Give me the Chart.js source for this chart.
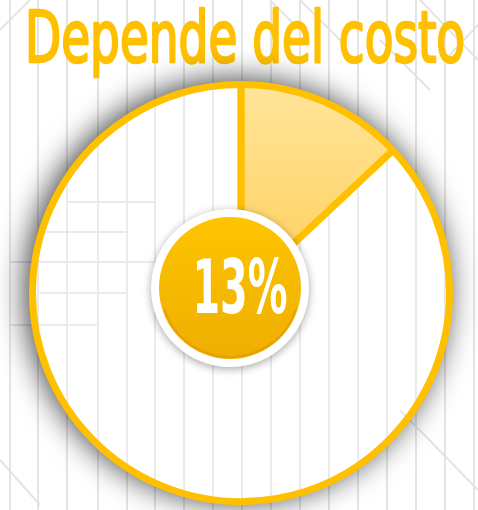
<html>
<head>
  <meta charset="utf-8">
  <title>Depende del costo</title>
  <script src="https://cdn.jsdelivr.net/npm/chart.js@4.4.1/dist/chart.umd.min.js"></script>
  <style>
    html, body { margin: 0; padding: 0; background: #fff; }
    #wrap { width: 478px; height: 510px; }
  </style>
</head>
<body>
<div id="wrap"><canvas id="costChart" width="478" height="510"></canvas></div>
<script>
  // chart data
  var chartTitle = 'Depende del costo';
  var labels = ['Costo', 'Resto'];
  var values = [13, 87];

  var yellow = '#FFC000';
  var condensed = '"DejaVu Sans Condensed", "DejaVu Sans", sans-serif';

  // background decoration (light grey line pattern)
  var bgVerticals = [10, 38, 67, 98, 127, 155, 184, 213, 242, 271, 300, 329, 358, 387, 416, 445, 474];
  var bgSegments = [
    [67, 202, 155, 202], [38, 232, 127, 232], [10, 262, 155, 262],
    [38, 293, 127, 293], [10, 325, 98, 325], [67, 120, 67, 202],
    [0, 460, 40, 505], [300, 0, 345, 45], [420, 0, 478, 60],
    [380, 40, 430, 90], [400, 410, 478, 490], [445, 60, 478, 25],
    [0, 30, 30, 0], [270, 0, 300, 30]
  ];

  // draws text squeezed horizontally to a given width
  function squeezedText(ctx, text, x, y, font, width, stroke) {
    ctx.font = font;
    var w = ctx.measureText(text).width;
    ctx.save();
    ctx.translate(x, y);
    ctx.scale(width / w, 1);
    ctx.textAlign = 'center';
    ctx.textBaseline = 'alphabetic';
    ctx.fillText(text, 0, 0);
    if (stroke) {
      ctx.lineWidth = stroke;
      ctx.lineJoin = 'round';
      ctx.strokeText(text, 0, 0);
    }
    ctx.restore();
  }

  var backgroundPlugin = {
    id: 'bgLines',
    beforeDraw: function(chart) {
      var ctx = chart.ctx;
      ctx.save();
      ctx.strokeStyle = '#e4e4e4';
      ctx.lineWidth = 2;
      bgVerticals.forEach(function(x) {
        ctx.beginPath();
        ctx.moveTo(x, 0);
        ctx.lineTo(x, chart.height);
        ctx.stroke();
      });
      bgSegments.forEach(function(s) {
        ctx.beginPath();
        ctx.moveTo(s[0], s[1]);
        ctx.lineTo(s[2], s[3]);
        ctx.stroke();
      });
      ctx.fillStyle = yellow;
      ctx.strokeStyle = yellow;
      squeezedText(ctx, chartTitle, 245, 62, '71px ' + condensed, 440, 2.5);
      ctx.restore();
    }
  };

  // soft shadow outside the pie only
  var shadowPlugin = {
    id: 'pieShadow',
    beforeDatasetsDraw: function(chart) {
      var arc = chart.getDatasetMeta(0).data[0];
      if (!arc) return;
      var ctx = chart.ctx;
      var r = arc.outerRadius + 3;
      ctx.save();
      ctx.beginPath();
      ctx.rect(0, 0, chart.width, chart.height);
      ctx.arc(arc.x, arc.y, r - 1, 0, Math.PI * 2, true);
      ctx.clip('evenodd');
      ctx.shadowColor = 'rgba(0,0,0,0.75)';
      ctx.shadowBlur = 30;
      ctx.shadowOffsetX = -2000 - 4;
      ctx.shadowOffsetY = -2;
      ctx.fillStyle = '#000';
      ctx.beginPath();
      ctx.arc(arc.x + 2000, arc.y, r, 0, Math.PI * 2);
      ctx.fill();
      ctx.restore();
    }
  };

  // center badge with the percentage
  var badgePlugin = {
    id: 'badge',
    afterDatasetsDraw: function(chart) {
      var arc = chart.getDatasetMeta(0).data[0];
      if (!arc) return;
      var ctx = chart.ctx;
      var cx = arc.x - 11, cy = arc.y - 5;
      var total = values.reduce(function(a, b) { return a + b; }, 0);
      var pct = Math.round(values[0] / total * 100) + '%';

      ctx.save();
      ctx.shadowColor = 'rgba(0,0,0,0.35)';
      ctx.shadowBlur = 8;
      ctx.shadowOffsetY = 2;
      ctx.fillStyle = '#ffffff';
      ctx.beginPath();
      ctx.arc(cx, cy, 79, 0, Math.PI * 2);
      ctx.fill();
      ctx.restore();

      ctx.save();
      var g = ctx.createLinearGradient(0, cy - 71, 0, cy + 71);
      g.addColorStop(0, '#FFC400');
      g.addColorStop(0.5, '#F6B900');
      g.addColorStop(1, '#EFAE00');
      ctx.fillStyle = g;
      ctx.beginPath();
      ctx.arc(cx, cy, 71, 0, Math.PI * 2);
      ctx.fill();
      ctx.strokeStyle = 'rgba(220,150,0,0.6)';
      ctx.lineWidth = 2;
      ctx.beginPath();
      ctx.arc(cx, cy, 69, 0.1 * Math.PI, 0.9 * Math.PI);
      ctx.stroke();
      ctx.restore();

      ctx.save();
      ctx.fillStyle = '#ffffff';
      squeezedText(ctx, pct, cx + 10, cy + 25, 'bold 75px ' + condensed, 95);
      ctx.restore();
    }
  };

  var ctx = document.getElementById('costChart').getContext('2d');
  var chart = new Chart(ctx, {
    type: 'pie',
    data: {
      labels: labels,
      datasets: [
        {
          data: values,
          backgroundColor: function(context) {
            var c = context.chart;
            if (!c.chartArea) return '#FFE08A';
            if (context.dataIndex === 0) {
              var area = c.chartArea;
              var midY = (area.top + area.bottom) / 2;
              var g = c.ctx.createLinearGradient(0, area.top, 0, midY);
              g.addColorStop(0, '#FFE59B');
              g.addColorStop(1, '#FFCF5A');
              return g;
            }
            return 'rgba(255,255,255,0.25)';
          },
          borderColor: yellow,
          borderWidth: 7
        }
      ]
    },
    options: {
      responsive: false,
      animation: false,
      events: [],
      layout: { padding: { top: 81, left: 29, right: 25, bottom: 5 } },
      plugins: {
        legend: { display: false },
        tooltip: { enabled: false },
        title: { display: false }
      }
    },
    plugins: [backgroundPlugin, shadowPlugin, badgePlugin]
  });
</script>
</body>
</html>
